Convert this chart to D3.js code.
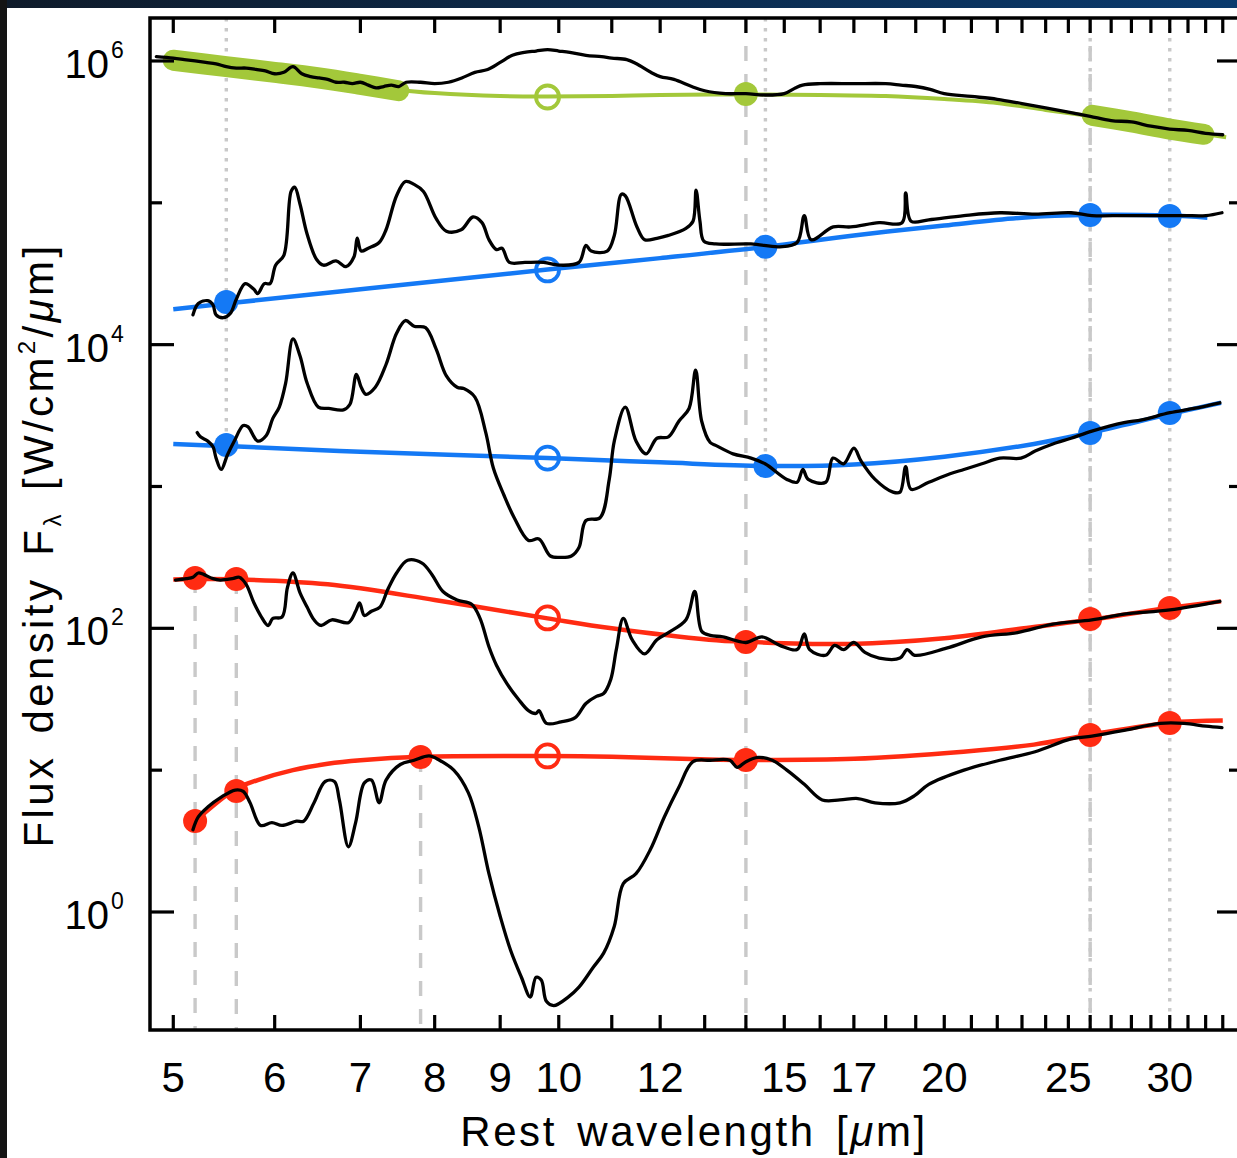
<!DOCTYPE html>
<html>
<head>
<meta charset="utf-8">
<script src="https://cdn.jsdelivr.net/npm/d3@7"></script>
<style>
  html, body { margin: 0; padding: 0; background: #fff; }
  svg { display: block; }
  text { font-family: 'Liberation Sans', Arial, Helvetica, sans-serif; fill: #000; }
</style>
</head>
<body>
<svg id="chart" width="1237" height="1158"></svg>
<script>
// ---------------- DATA (wavelength in micron, flux given as log10 of F_lambda) ----------------
const xTickValues = [5,6,7,8,9,10,11,12,13,14,15,16,17,18,19,20,21,22,23,24,25,26,27,28,29,30,31,32,33,34];
const xTickLabels = [5,6,7,8,9,10,12,15,17,20,25,30];
const yTickExponents = [0,1,2,3,4,5,6];
const yLabelExponents = [0,2,4,6];

// Spectrum 1 (top, green continuum)
const spectrumGreen = [[4.85,6.03],[5.0,6.02],[5.1,6.01],[5.2,6.00],[5.3,5.99],[5.4,5.98],[5.5,5.96],[5.6,5.95],[5.7,5.95],[5.8,5.94],[5.9,5.93],[6.0,5.91],[6.1,5.92],[6.2,5.96],[6.3,5.91],[6.4,5.89],[6.5,5.88],[6.6,5.87],[6.7,5.85],[6.8,5.85],[6.9,5.84],[7.0,5.85],[7.1,5.83],[7.2,5.81],[7.3,5.82],[7.4,5.83],[7.5,5.82],[7.6,5.85],[7.8,5.85],[8.0,5.84],[8.2,5.85],[8.4,5.88],[8.6,5.92],[8.8,5.94],[9.0,5.99],[9.2,6.04],[9.4,6.06],[9.6,6.07],[9.8,6.08],[10.0,6.07],[10.2,6.06],[10.5,6.04],[10.8,6.03],[11.0,6.02],[11.3,6.01],[11.5,5.98],[11.8,5.92],[12.0,5.89],[12.3,5.87],[12.7,5.82],[13.0,5.79],[13.5,5.77],[14.0,5.77],[14.5,5.76],[15.0,5.77],[15.3,5.81],[15.5,5.83],[16.0,5.84],[17.0,5.84],[18.0,5.84],[18.5,5.83],[19.0,5.82],[19.5,5.80],[20.0,5.77],[21.0,5.75],[22.0,5.73],[23.0,5.70],[24.0,5.67],[25.0,5.64],[26.0,5.61],[27.0,5.58],[28.0,5.57],[29.0,5.54],[30.0,5.52],[31.0,5.51],[32.0,5.49],[33.0,5.48]];
const fitGreen = [[5.0,6.007],[5.5,5.958],[6.0,5.915],[6.5,5.88],[7.0,5.838],[7.5,5.796],[8.0,5.774],[9.0,5.753],[9.8,5.75],[11.0,5.753],[12.0,5.76],[14.0,5.764],[16.0,5.76],[18.0,5.753],[20.0,5.732],[22.0,5.704],[24.0,5.655],[26.0,5.612],[28.0,5.57],[30.0,5.527],[32.0,5.485],[33.2,5.462]];
const bandGreen = [
  [[5.0,6.005],[5.5,5.96],[6.0,5.92],[6.5,5.88],[7.0,5.835],[7.5,5.79]],
  [[26.1,5.617],[28.0,5.57],[30.0,5.52],[31.9,5.483]]
];
const filledGreen = [[14.0,5.767]];
const openGreen = [[9.8,5.746]];

// Spectrum 2 (blue continuum)
const spectrumBlueA = [[5.18,4.21],[5.23,4.29],[5.32,4.31],[5.37,4.28],[5.40,4.21],[5.47,4.19],[5.54,4.22],[5.60,4.32],[5.69,4.43],[5.78,4.39],[5.82,4.36],[5.89,4.43],[5.95,4.43],[6.01,4.56],[6.10,4.63],[6.18,5.08],[6.22,5.11],[6.28,4.99],[6.36,4.78],[6.47,4.60],[6.55,4.56],[6.70,4.59],[6.82,4.55],[6.92,4.62],[6.96,4.75],[7.01,4.66],[7.10,4.68],[7.24,4.72],[7.33,4.81],[7.47,5.05],[7.59,5.15],[7.71,5.13],[7.84,5.08],[8.02,4.89],[8.17,4.80],[8.39,4.81],[8.57,4.90],[8.71,4.86],[8.82,4.74],[8.94,4.67],[9.03,4.68],[9.15,4.58],[9.41,4.58],[9.73,4.58],[10.04,4.56],[10.37,4.58],[10.50,4.70],[10.60,4.66],[10.91,4.66],[11.05,4.77],[11.19,5.06],[11.27,5.05],[11.51,4.83],[11.67,4.74],[11.93,4.75],[12.18,4.77],[12.57,4.82],[12.73,4.87],[12.80,5.09],[12.89,4.87],[12.98,4.73],[13.26,4.71],[14.13,4.71],[14.88,4.69],[15.35,4.72],[15.55,4.91],[15.74,4.74],[16.38,4.83],[16.90,4.83],[17.79,4.86],[18.54,4.86],[18.66,5.07],[18.84,4.87],[19.45,4.88],[20.72,4.91],[22.11,4.93],[23.55,4.92],[25.12,4.93],[26.08,4.91],[27.63,4.91],[29.48,4.91],[30.78,4.91],[32.02,4.91],[32.95,4.93]];
const fitBlueA = [[5.0,4.25],[5.5,4.29],[7.0,4.39],[9.8,4.53],[12.0,4.61],[14.5,4.69],[17.0,4.77],[20.0,4.84],[23.0,4.895],[26.0,4.915],[30.0,4.91],[32.1,4.895]];
const filledBlueA = [[5.5,4.30],[14.5,4.69],[26.0,4.914],[30.0,4.907]];
const openBlueA = [[9.8,4.527]];

// Spectrum 3 (blue continuum)
const spectrumBlueB = [[5.22,3.38],[5.25,3.35],[5.32,3.32],[5.37,3.28],[5.40,3.20],[5.45,3.12],[5.51,3.22],[5.58,3.32],[5.67,3.43],[5.72,3.42],[5.82,3.32],[5.91,3.36],[5.98,3.48],[6.05,3.56],[6.12,3.73],[6.20,4.04],[6.28,3.92],[6.36,3.73],[6.49,3.56],[6.61,3.55],[6.79,3.54],[6.87,3.58],[6.95,3.79],[7.01,3.70],[7.07,3.65],[7.19,3.70],[7.33,3.86],[7.47,4.08],[7.59,4.17],[7.71,4.13],[7.87,4.12],[8.02,3.97],[8.17,3.78],[8.33,3.70],[8.43,3.69],[8.60,3.63],[8.77,3.38],[8.89,3.13],[9.06,2.94],[9.23,2.78],[9.47,2.62],[9.65,2.63],[9.85,2.51],[10.04,2.50],[10.23,2.51],[10.37,2.57],[10.50,2.76],[10.77,2.78],[10.95,3.05],[11.05,3.32],[11.27,3.56],[11.49,3.32],[11.70,3.23],[11.93,3.34],[12.18,3.35],[12.41,3.46],[12.64,3.55],[12.79,3.82],[12.93,3.46],[13.13,3.31],[13.26,3.29],[13.68,3.23],[14.13,3.20],[14.49,3.16],[15.07,3.05],[15.35,3.03],[15.51,3.12],[15.66,3.05],[16.16,3.03],[16.37,3.20],[16.69,3.16],[17.00,3.27],[17.22,3.18],[17.66,3.05],[18.24,2.96],[18.47,2.96],[18.66,3.14],[18.84,2.98],[19.45,3.03],[20.21,3.09],[20.72,3.12],[21.40,3.16],[22.10,3.20],[22.96,3.20],[23.55,3.25],[24.31,3.30],[25.12,3.34],[26.08,3.39],[27.63,3.45],[28.53,3.47],[30.01,3.52],[31.33,3.55],[32.83,3.59]];
const fitBlueB = [[5.0,3.30],[5.5,3.285],[7.0,3.245],[9.8,3.20],[12.0,3.17],[14.5,3.145],[17.0,3.155],[20.0,3.21],[23.5,3.30],[26.0,3.38],[30.0,3.51],[32.9,3.59]];
const filledBlueB = [[5.5,3.293],[14.5,3.145],[26.0,3.377],[30.0,3.518]];
const openBlueB = [[9.8,3.20]];

// Spectrum 4 (red continuum)
const spectrumRedA = [[5.02,2.34],[5.12,2.35],[5.18,2.36],[5.23,2.39],[5.28,2.38],[5.37,2.35],[5.44,2.34],[5.56,2.35],[5.63,2.36],[5.70,2.31],[5.78,2.18],[5.85,2.09],[5.93,2.02],[5.98,2.07],[6.08,2.08],[6.14,2.29],[6.20,2.39],[6.28,2.25],[6.36,2.15],[6.44,2.06],[6.52,2.02],[6.65,2.06],[6.85,2.04],[6.94,2.12],[6.99,2.18],[7.05,2.09],[7.14,2.12],[7.25,2.15],[7.35,2.27],[7.47,2.39],[7.62,2.48],[7.82,2.46],[7.96,2.38],[8.12,2.26],[8.33,2.20],[8.55,2.17],[8.68,2.07],[8.82,1.87],[8.94,1.74],[9.11,1.61],[9.30,1.50],[9.47,1.42],[9.60,1.40],[9.65,1.42],[9.78,1.33],[10.04,1.34],[10.30,1.37],[10.50,1.47],[10.70,1.52],[10.84,1.54],[10.98,1.64],[11.09,1.85],[11.23,2.07],[11.41,1.92],[11.67,1.82],[11.93,1.92],[12.18,1.97],[12.57,2.06],[12.77,2.26],[12.93,1.98],[13.13,1.95],[13.43,1.94],[14.0,1.90],[14.41,1.94],[14.88,1.88],[15.35,1.85],[15.55,1.96],[15.70,1.85],[16.16,1.81],[16.42,1.88],[16.69,1.85],[17.0,1.90],[17.34,1.83],[17.79,1.79],[18.47,1.79],[18.71,1.85],[18.96,1.81],[20.08,1.86],[21.40,1.94],[22.81,1.97],[24.31,2.03],[26.08,2.06],[27.63,2.10],[30.01,2.13],[32.83,2.19]];
const fitRedA = [[5.0,2.345],[5.6,2.345],[6.6,2.31],[8.0,2.20],[9.8,2.07],[11.0,2.00],[13.1,1.92],[14.0,1.905],[16.9,1.89],[20.0,1.93],[23.5,2.01],[26.0,2.06],[30.0,2.145],[32.9,2.19]];
const filledRedA = [[5.2,2.355],[5.6,2.348],[14.0,1.904],[26.0,2.066],[30.0,2.143]];
const openRedA = [[9.8,2.073]];

// Spectrum 5 (red continuum, bottom)
const spectrumRedB = [[5.18,0.58],[5.23,0.67],[5.32,0.74],[5.45,0.81],[5.59,0.86],[5.67,0.85],[5.74,0.77],[5.85,0.61],[5.97,0.63],[6.08,0.61],[6.24,0.64],[6.32,0.64],[6.44,0.77],[6.57,0.92],[6.68,0.92],[6.74,0.79],[6.85,0.46],[6.94,0.63],[7.05,0.91],[7.14,0.93],[7.24,0.77],[7.33,0.93],[7.52,1.04],[7.71,1.07],[7.92,1.10],[8.07,1.07],[8.28,1.00],[8.50,0.84],[8.66,0.60],[8.82,0.27],[9.00,-0.03],[9.17,-0.27],[9.35,-0.46],[9.50,-0.60],[9.60,-0.46],[9.69,-0.48],[9.78,-0.63],[9.91,-0.66],[10.17,-0.60],[10.37,-0.53],[10.64,-0.39],[10.84,-0.29],[11.05,-0.10],[11.23,0.20],[11.49,0.27],[11.79,0.44],[12.09,0.67],[12.41,0.88],[12.73,1.06],[13.13,1.07],[13.60,1.07],[13.78,1.02],[14.0,1.06],[14.31,1.09],[14.68,1.07],[15.07,1.00],[15.55,0.90],[16.06,0.79],[16.58,0.79],[17.12,0.80],[17.66,0.77],[18.47,0.77],[18.96,0.82],[19.45,0.90],[20.72,1.00],[22.10,1.07],[23.55,1.13],[25.12,1.22],[26.08,1.24],[27.63,1.28],[29.48,1.33],[30.78,1.33],[32.02,1.31],[32.95,1.30]];
const fitRedB = [[5.2,0.64],[5.6,0.87],[5.82,0.93],[6.2,1.00],[6.6,1.045],[7.0,1.07],[7.8,1.095],[9.8,1.10],[11.0,1.095],[13.1,1.075],[14.0,1.072],[17.0,1.08],[20.7,1.13],[23.5,1.18],[26.0,1.25],[30.0,1.335],[33.0,1.35]];
const filledRedB = [[5.2,0.642],[5.6,0.853],[7.8,1.093],[14.0,1.072],[26.0,1.248],[30.0,1.333]];
const openRedB = [[9.8,1.10]];

// Vertical reference wavelengths (upper/lower ends as log10 flux; null = plot edge)
const markerWaves  = [5.2, 5.6, 7.8, 14.0, 26.0, 5.5, 14.5, 26.0, 30.0];
const markerKinds  = ['dashed','dashed','dashed','dashed','dashed','dotted','dotted','dotted','dotted'];
const markerUpper  = [2.355, 2.348, 1.093, null, null, null, null, null, null];
const markerLower  = [null, null, null, null, null, 3.293, 3.145, null, null];

// ---------------- DRAWING ----------------
const W = 1237, H = 1158;
const GREEN = '#a3c83a', BLUE = '#1479f5', RED = '#ff2b12', GRAY = '#c9c9c9';
const svg = d3.select('#chart');
const defs = svg.append('defs');
const grad = defs.append('linearGradient').attr('id', 'topband');
grad.append('stop').attr('offset', '0%').attr('stop-color', '#0f1b2a');
grad.append('stop').attr('offset', '100%').attr('stop-color', '#0a3a6d');

svg.append('rect').attr('width', W).attr('height', H).attr('fill', '#fff');
svg.append('rect').attr('x', 0).attr('y', 0).attr('width', W).attr('height', 8).attr('fill', 'url(#topband)');
svg.append('rect').attr('x', 0).attr('y', 0).attr('width', 7).attr('height', H).attr('fill', '#141414');

const x = d3.scaleLog().domain([4.795, 34.1]).range([150, 1241]);
const y = d3.scaleLog().domain([Math.pow(10, -0.832), Math.pow(10, 6.303)]).range([1030, 18]);
const F = d => Math.pow(10, d);
const [xL, xR] = x.range();
const [yB, yT] = y.range();

defs.append('clipPath').attr('id', 'plotclip').append('rect')
  .attr('x', xL).attr('y', yT).attr('width', xR - xL).attr('height', yB - yT);

const plot = svg.append('g').attr('clip-path', 'url(#plotclip)');

// vertical markers
markerWaves.forEach((w, i) => {
  const y1 = markerUpper[i] == null ? yT : y(F(markerUpper[i]));
  const y2 = markerLower[i] == null ? yB : y(F(markerLower[i]));
  plot.append('line')
    .attr('x1', x(w)).attr('x2', x(w)).attr('y1', y1).attr('y2', y2)
    .attr('stroke', GRAY).attr('stroke-width', 3.4)
    .attr('stroke-dasharray', markerKinds[i] === 'dashed' ? '15,13' : '3.4,6.6');
});

const lineSharp = d3.line().x(d => x(d[0])).y(d => y(F(d[1]))).curve(d3.curveCatmullRom.alpha(0.5));
const lineSmooth = d3.line().x(d => x(d[0])).y(d => y(F(d[1]))).curve(d3.curveCatmullRom.alpha(0.5));

// continuum fits
plot.append('path').datum(fitGreen).attr('d', lineSmooth)
  .attr('fill', 'none').attr('stroke', GREEN).attr('stroke-width', 4);
bandGreen.forEach(seg => {
  plot.append('path').datum(seg).attr('d', lineSmooth)
    .attr('fill', 'none').attr('stroke', GREEN).attr('stroke-width', 21)
    .attr('stroke-linecap', 'round').attr('stroke-linejoin', 'round');
});
[[fitBlueA, BLUE], [fitBlueB, BLUE], [fitRedA, RED], [fitRedB, RED]].forEach(([fit, c]) => {
  plot.append('path').datum(fit).attr('d', lineSmooth)
    .attr('fill', 'none').attr('stroke', c).attr('stroke-width', 4.5);
});

// filled anchor points
[[filledGreen, GREEN], [filledBlueA, BLUE], [filledBlueB, BLUE], [filledRedA, RED], [filledRedB, RED]].forEach(([pts, c]) => {
  plot.selectAll(null).data(pts).enter().append('circle')
    .attr('cx', d => x(d[0])).attr('cy', d => y(F(d[1]))).attr('r', 12)
    .attr('fill', c);
});
// open points
[[openGreen, GREEN], [openBlueA, BLUE], [openBlueB, BLUE], [openRedA, RED], [openRedB, RED]].forEach(([pts, c]) => {
  plot.selectAll(null).data(pts).enter().append('circle')
    .attr('cx', d => x(d[0])).attr('cy', d => y(F(d[1]))).attr('r', 11.5)
    .attr('fill', 'none').attr('stroke', c).attr('stroke-width', 3.8);
});

// spectra
[spectrumGreen, spectrumBlueA, spectrumBlueB, spectrumRedA, spectrumRedB].forEach(s => {
  plot.append('path').datum(s).attr('d', lineSharp)
    .attr('fill', 'none').attr('stroke', '#000').attr('stroke-width', 3.3)
    .attr('stroke-linejoin', 'round').attr('stroke-linecap', 'round');
});

// frame
svg.append('rect').attr('x', xL).attr('y', yT).attr('width', xR - xL).attr('height', yB - yT)
  .attr('fill', 'none').attr('stroke', '#000').attr('stroke-width', 3.5);

// x ticks (bottom and top, inward)
const axes = svg.append('g').attr('stroke', '#000').attr('stroke-width', 3.2);
xTickValues.forEach(v => {
  axes.append('line').attr('x1', x(v)).attr('x2', x(v)).attr('y1', yB).attr('y2', yB - 15);
  axes.append('line').attr('x1', x(v)).attr('x2', x(v)).attr('y1', yT).attr('y2', yT + 15);
});
// y ticks (left and right, inward)
yTickExponents.forEach(e => {
  const len = e % 2 === 0 ? 24 : 12;
  const yy = y(F(e));
  axes.append('line').attr('x1', xL).attr('x2', xL + len).attr('y1', yy).attr('y2', yy);
  axes.append('line').attr('x1', xR).attr('x2', xR - len).attr('y1', yy).attr('y2', yy);
});

// x tick labels
svg.selectAll(null).data(xTickLabels).enter().append('text')
  .attr('x', d => x(d)).attr('y', 1092).attr('text-anchor', 'middle')
  .attr('font-size', 42).text(d => d);

// y tick labels
yLabelExponents.forEach(e => {
  const yy = y(F(e));
  svg.append('text').attr('x', 109).attr('y', yy + 17).attr('text-anchor', 'end')
    .attr('font-size', 40).text('10');
  svg.append('text').attr('x', 111).attr('y', yy - 3).attr('text-anchor', 'start')
    .attr('font-size', 23).text(e);
});

// x title
const xt = svg.append('text').attr('x', 694).attr('y', 1146).attr('text-anchor', 'middle')
  .attr('font-size', 42).style('letter-spacing', '2.6px').style('word-spacing', '6px');
xt.append('tspan').text('Rest wavelength [');
xt.append('tspan').attr('font-style', 'italic').text('μ');
xt.append('tspan').text('m]');

// y title
const yt = svg.append('text').attr('transform', 'translate(53,545) rotate(-90)')
  .attr('text-anchor', 'middle').attr('font-size', 42)
  .style('letter-spacing', '3.4px').style('word-spacing', '6px');
yt.append('tspan').text('Flux density F');
yt.append('tspan').attr('font-size', 24).attr('dy', 8).text('λ');
yt.append('tspan').attr('dy', -8).text(' [W/cm');
yt.append('tspan').attr('font-size', 24).attr('dy', -18).text('2');
yt.append('tspan').attr('dy', 18).text('/');
yt.append('tspan').attr('font-style', 'italic').text('μ');
yt.append('tspan').text('m]');
</script>
</body>
</html>
